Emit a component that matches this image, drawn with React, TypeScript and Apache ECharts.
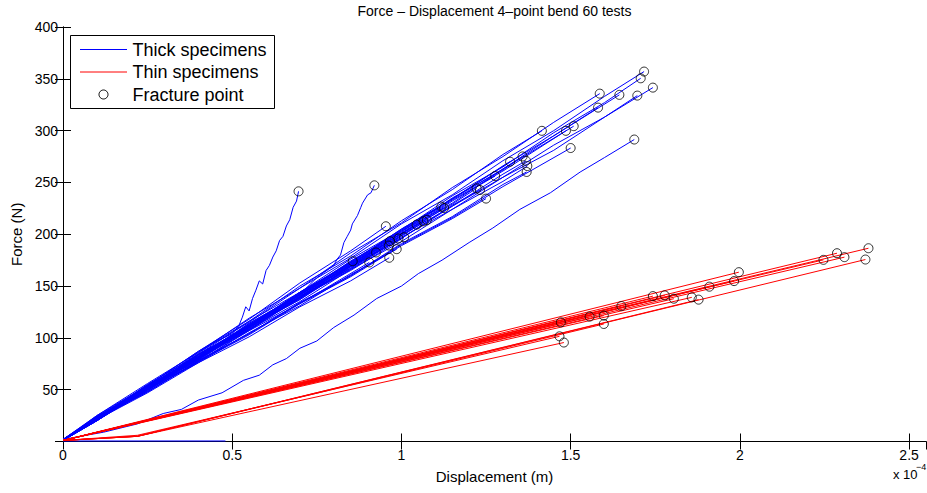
import React, { useEffect, useRef } from "react";
import * as echarts from "echarts";

// Displacement values are in units of 1e-4 m, force in N.
const titleText = "Force \u2013 Displacement 4\u2013point bend 60 tests";
const xAxisName = "Displacement (m)";
const yAxisName = "Force (N)";
const legendNames = ["Thick specimens", "Thin specimens", "Fracture point"];
const xTicks = [0, 0.5, 1, 1.5, 2, 2.5];
const yTicks = [50, 100, 150, 200, 250, 300, 350, 400];

// Thick specimens: each curve ends at its fracture point
const thickCurves: number[][][] = [
  [[0, 1], [0.1, 23], [0.25, 52], [0.4, 86], [0.55, 115], [0.7, 148], [0.85, 177], [1.0, 210], [1.15, 238], [1.3, 271], [1.45, 300], [1.6, 333], [1.717, 357]],
  [[0, 2], [0.1, 22], [0.25, 55], [0.4, 84], [0.55, 116], [0.7, 144], [0.85, 176], [1.0, 204], [1.15, 237], [1.3, 265], [1.45, 298], [1.6, 327], [1.707, 350.5]],
  [[0, 1], [0.1, 21], [0.25, 49], [0.4, 81], [0.55, 108], [0.7, 139], [0.85, 166], [1.0, 197], [1.15, 224], [1.3, 255], [1.45, 281], [1.6, 313], [1.743, 341.5]],
  [[0, 2], [0.1, 25], [0.25, 56], [0.4, 86], [0.55, 119], [0.7, 148], [0.85, 182], [1.0, 211], [1.15, 245], [1.3, 275], [1.45, 308], [1.586, 335.7]],
  [[0, 1], [0.1, 22], [0.25, 54], [0.4, 82], [0.55, 114], [0.7, 142], [0.85, 174], [1.0, 203], [1.15, 234], [1.3, 263], [1.45, 295], [1.644, 334.5]],
  [[0, 1], [0.1, 20], [0.25, 52], [0.4, 79], [0.55, 111], [0.7, 138], [0.85, 169], [1.0, 196], [1.15, 227], [1.3, 255], [1.45, 286], [1.6, 313], [1.697, 333.8]],
  [[0, 2], [0.1, 24], [0.25, 52], [0.4, 84], [0.55, 112], [0.7, 144], [0.85, 173], [1.0, 205], [1.15, 234], [1.3, 266], [1.45, 295], [1.581, 322.2]],
  [[0, 1], [0.1, 25], [0.25, 54], [0.4, 87], [0.55, 116], [0.7, 150], [0.85, 179], [1.0, 213], [1.15, 243], [1.3, 277], [1.415, 299.8]],
  [[0, 2], [0.1, 21], [0.25, 54], [0.4, 81], [0.55, 113], [0.7, 141], [0.85, 173], [1.0, 201], [1.15, 233], [1.3, 261], [1.486, 299.8]],
  [[0, 1], [0.1, 24], [0.25, 51], [0.4, 84], [0.55, 110], [0.7, 143], [0.85, 170], [1.0, 203], [1.15, 230], [1.3, 263], [1.509, 304.3]],
  [[0, 1], [0.1, 22], [0.25, 48], [0.4, 78], [0.55, 104], [0.7, 134], [0.85, 160], [1.0, 190], [1.15, 216], [1.3, 246], [1.5, 283.2]],
  [[0, 2], [0.12, 9], [0.22, 17], [0.296, 27], [0.35, 31], [0.4, 40], [0.47, 47], [0.533, 59], [0.58, 64], [0.62, 74], [0.66, 80], [0.7, 90], [0.75, 97], [0.8, 110], [0.86, 122], [0.927, 138], [1.0, 150], [1.05, 162], [1.12, 175], [1.2, 192], [1.27, 206], [1.35, 224], [1.44, 240], [1.528, 260], [1.6, 274], [1.688, 291.4]],
  [[0, 2], [0.1, 22], [0.25, 55], [0.35, 74], [0.45, 96], [0.5, 104], [0.52, 112], [0.53, 120], [0.54, 130], [0.55, 126], [0.56, 138], [0.57, 146], [0.58, 155], [0.59, 152], [0.6, 165], [0.61, 170], [0.62, 178], [0.63, 184], [0.64, 194], [0.65, 198], [0.66, 208], [0.67, 214], [0.68, 226], [0.69, 232], [0.696, 241.4]],
  [[0, 1], [0.1, 22], [0.25, 52], [0.4, 80], [0.55, 114], [0.7, 142], [0.75, 158], [0.8, 170], [0.81, 176], [0.82, 180], [0.83, 192], [0.84, 198], [0.85, 204], [0.855, 210], [0.87, 218], [0.88, 226], [0.885, 230], [0.9, 238], [0.91, 240], [0.92, 247.2]],
  [[0, 1], [0.1, 24], [0.25, 54], [0.4, 87], [0.55, 118], [0.7, 153], [0.85, 184], [0.954, 207.7]],
  [[0, 2], [0.1, 23], [0.25, 51], [0.4, 83], [0.55, 111], [0.7, 143], [0.856, 174]],
  [[0, 1], [0.1, 20], [0.25, 51], [0.4, 77], [0.55, 107], [0.7, 133], [0.905, 172.8]],
  [[0, 1], [0.1, 23], [0.25, 50], [0.4, 81], [0.55, 108], [0.7, 140], [0.85, 167], [0.925, 182.4]],
  [[0, 2], [0.1, 20], [0.25, 52], [0.4, 78], [0.55, 110], [0.7, 137], [0.85, 168], [0.963, 189.1]],
  [[0, 1], [0.1, 23], [0.25, 51], [0.4, 82], [0.55, 110], [0.7, 142], [0.85, 169], [0.966, 193.3]],
  [[0, 1], [0.1, 20], [0.25, 50], [0.4, 76], [0.55, 105], [0.7, 131], [0.85, 161], [0.986, 185.6]],
  [[0, 1], [0.1, 21], [0.25, 47], [0.4, 76], [0.55, 101], [0.7, 130], [0.85, 155], [0.964, 177.3]],
  [[0, 2], [0.1, 21], [0.25, 52], [0.4, 79], [0.55, 111], [0.7, 138], [0.85, 169], [0.991, 195.9]],
  [[0, 1], [0.1, 23], [0.25, 49], [0.4, 80], [0.55, 107], [0.7, 139], [0.85, 165], [1.008, 197.1]],
  [[0, 1], [0.1, 21], [0.25, 53], [0.4, 80], [0.55, 112], [0.7, 140], [0.85, 171], [1.045, 209.3]],
  [[0, 2], [0.1, 24], [0.25, 50], [0.4, 83], [0.55, 109], [0.7, 142], [0.85, 169], [1.0, 201], [1.065, 212.5]],
  [[0, 1], [0.1, 21], [0.25, 53], [0.4, 79], [0.55, 111], [0.7, 139], [0.85, 170], [1.0, 198], [1.075, 213.8]],
  [[0, 1], [0.1, 24], [0.25, 51], [0.4, 84], [0.55, 111], [0.7, 144], [0.85, 171], [1.0, 204], [1.118, 226.7]],
  [[0, 2], [0.1, 21], [0.25, 53], [0.4, 80], [0.55, 112], [0.7, 139], [0.85, 171], [1.0, 199], [1.126, 225.4]],
  [[0, 1], [0.1, 23], [0.25, 50], [0.4, 82], [0.55, 109], [0.7, 142], [0.85, 169], [1.0, 201], [1.15, 229], [1.222, 244.3]],
  [[0, 1], [0.1, 21], [0.25, 52], [0.4, 79], [0.55, 110], [0.7, 137], [0.85, 169], [1.0, 196], [1.15, 228], [1.232, 242.7]],
  [[0, 1], [0.1, 22], [0.25, 48], [0.4, 77], [0.55, 103], [0.7, 133], [0.85, 159], [1.0, 189], [1.15, 215], [1.25, 234.4]],
  [[0, 2], [0.1, 21], [0.25, 53], [0.4, 80], [0.55, 112], [0.7, 140], [0.85, 172], [1.0, 200], [1.15, 232], [1.277, 256.2]],
  [[0, 1], [0.1, 24], [0.25, 51], [0.4, 84], [0.55, 112], [0.7, 144], [0.85, 172], [1.0, 205], [1.15, 234], [1.321, 270]],
  [[0, 1], [0.1, 22], [0.25, 54], [0.4, 81], [0.55, 113], [0.7, 141], [0.85, 174], [1.0, 202], [1.15, 235], [1.3, 262], [1.358, 275.1]],
  [[0, 2], [0.1, 23], [0.25, 50], [0.4, 81], [0.55, 108], [0.7, 140], [0.85, 167], [1.0, 199], [1.15, 227], [1.3, 258], [1.368, 270.9]],
  [[0, 1], [0.1, 20], [0.25, 51], [0.4, 77], [0.55, 108], [0.7, 135], [0.85, 166], [1.0, 193], [1.15, 224], [1.3, 251], [1.372, 265.8]],
  [[0, 1], [0.1, 22], [0.25, 48], [0.4, 78], [0.55, 104], [0.7, 134], [0.85, 160], [1.0, 191], [1.15, 217], [1.3, 248], [1.37, 260.1]],
];

// A thick test that recorded no load (no fracture marker)
const thickFailed: number[][] = [[0, 0.5], [0.48, 0.5]];

// Thin specimens: each curve ends at its fracture point
const thinCurves: number[][][] = [
  [[0, 1], [2.38, 186.5]],
  [[0, 1], [0.22, 5], [2.371, 175.6]],
  [[0, 1], [2.287, 181.7]],
  [[0, 1], [2.309, 177.9]],
  [[0, 1], [2.247, 175.3]],
  [[0, 1], [1.997, 163.4]],
  [[0, 1], [1.983, 154.8]],
  [[0, 1], [1.91, 149.4]],
  [[0, 1], [0.22, 5], [1.878, 136.9]],
  [[0, 1], [1.858, 139.1]],
  [[0, 1], [1.805, 137.8]],
  [[0, 1], [1.778, 141]],
  [[0, 1], [1.743, 140.3]],
  [[0, 1], [1.65, 130.7]],
  [[0, 1], [1.598, 121.5]],
  [[0, 1], [0.22, 5], [1.598, 113.4]],
  [[0, 1], [1.556, 120.5]],
  [[0, 1], [1.471, 115]],
  [[0, 1], [0.22, 6], [1.467, 101.5]],
  [[0, 1], [0.22, 5], [1.48, 95.5]],
];

const FONT = "'Liberation Sans', Arial, Helvetica, sans-serif";
const BLUE = "#0000ff";
const RED = "#ff0000";

export default function App() {
  const ref = useRef<HTMLDivElement>(null);

  useEffect(() => {
    if (!ref.current) return;
    const chart = echarts.init(ref.current, undefined, { renderer: "svg" });

    const fracturePoints = [...thickCurves, ...thinCurves].map((c) => c[c.length - 1]);

    const lineSeries = (name: string, color: string, data: number[][]) => ({
      type: "line",
      name,
      data,
      symbol: "none",
      showSymbol: false,
      silent: true,
      lineStyle: { color, width: 1 },
      itemStyle: { color },
      z: 2,
    });

    const series: any[] = [
      ...thickCurves.map((c) => lineSeries(legendNames[0], BLUE, c)),
      lineSeries(legendNames[0], BLUE, thickFailed),
      ...thinCurves.map((c) => lineSeries(legendNames[1], RED, c)),
      {
        type: "scatter",
        name: legendNames[2],
        data: fracturePoints,
        symbol: "circle",
        symbolSize: 9,
        silent: true,
        itemStyle: { color: "rgba(0,0,0,0)", borderColor: "#000", borderWidth: 1 },
        z: 5,
      },
    ];

    const onTick = (v: number) => xTicks.some((t) => Math.abs(t - v) < 1e-6);
    const onYTick = (v: number) => yTicks.some((t) => Math.abs(t - v) < 1e-6);

    const axisLine = { show: true, lineStyle: { color: "#000", width: 1 } };
    const axisTick = { show: true, inside: true, length: 8, lineStyle: { color: "#000", width: 1 } };

    // Legend box drawn with graphic elements (MATLAB style)
    const lx = 70.5, ly = 35.5, lw = 204, lh = 73;
    const rows = [49.5, 72, 94.5];
    const legendGraphic: any[] = [
      {
        type: "rect",
        shape: { x: lx, y: ly, width: lw, height: lh },
        style: { fill: "#fff", stroke: "#000", lineWidth: 1 },
        z: 100,
      },
      {
        type: "line",
        shape: { x1: 80, y1: rows[0], x2: 127, y2: rows[0] },
        style: { stroke: BLUE, lineWidth: 1 },
        z: 101,
      },
      {
        type: "line",
        shape: { x1: 80, y1: rows[1], x2: 127, y2: rows[1] },
        style: { stroke: RED, lineWidth: 1 },
        z: 101,
      },
      {
        type: "circle",
        shape: { cx: 103.5, cy: rows[2], r: 4.5 },
        style: { fill: "none", stroke: "#000", lineWidth: 1 },
        z: 101,
      },
      ...legendNames.map((n, i) => ({
        type: "text",
        x: 132.5,
        y: rows[i],
        style: {
          text: n,
          fill: "#000",
          font: `18px ${FONT}`,
          textAlign: "left",
          textVerticalAlign: "middle",
        },
        z: 101,
      })),
    ];

    chart.setOption({
      animation: false,
      backgroundColor: "#fff",
      textStyle: { fontFamily: FONT },
      grid: { left: 63, top: 27, width: 863, height: 414.5, containLabel: false },
      xAxis: [
        {
          type: "value",
          position: "bottom",
          min: 0,
          max: 2.55,
          interval: 0.5,
          name: xAxisName,
          nameLocation: "middle",
          nameGap: 27,
          nameTextStyle: { fontSize: 15, color: "#000", fontFamily: FONT },
          axisLine,
          axisTick,
          splitLine: { show: false },
          axisLabel: {
            show: true,
            margin: 6,
            fontSize: 14,
            color: "#000",
            fontFamily: FONT,
            showMaxLabel: false,
            formatter: (v: number) => (onTick(v) ? String(v) : ""),
          },
        },
        {
          type: "value",
          position: "top",
          min: 0,
          max: 2.55,
          interval: 0.5,
          axisLine,
          axisTick,
          splitLine: { show: false },
          axisLabel: { show: false },
        },
      ],
      yAxis: [
        {
          type: "value",
          position: "left",
          min: 0,
          max: 400,
          interval: 50,
          name: yAxisName,
          nameLocation: "middle",
          nameGap: 37,
          nameTextStyle: { fontSize: 15, color: "#000", fontFamily: FONT },
          axisLine,
          axisTick,
          splitLine: { show: false },
          axisLabel: {
            show: true,
            margin: 5,
            fontSize: 14,
            color: "#000",
            fontFamily: FONT,
            formatter: (v: number) => (onYTick(v) ? String(v) : ""),
          },
        },
        {
          type: "value",
          position: "right",
          min: 0,
          max: 400,
          interval: 50,
          axisLine,
          axisTick,
          splitLine: { show: false },
          axisLabel: { show: false },
        },
      ],
      graphic: [
        {
          type: "text",
          x: 494.5,
          y: 11,
          style: {
            text: titleText,
            fill: "#000",
            font: `14px ${FONT}`,
            textAlign: "center",
            textVerticalAlign: "middle",
          },
        },
        {
          type: "text",
          x: 893,
          y: 474,
          style: {
            text: "x 10",
            fill: "#000",
            font: `13px ${FONT}`,
            textAlign: "left",
            textVerticalAlign: "middle",
          },
        },
        {
          type: "text",
          x: 916,
          y: 467,
          style: {
            text: "\u22124",
            fill: "#000",
            font: `9px ${FONT}`,
            textAlign: "left",
            textVerticalAlign: "middle",
          },
        },
        ...legendGraphic,
      ],
      series,
    });

    return () => chart.dispose();
  }, []);

  return (
    <div
      ref={ref}
      style={{ position: "absolute", left: 0, top: 0, width: 927, height: 493 }}
    />
  );
}
